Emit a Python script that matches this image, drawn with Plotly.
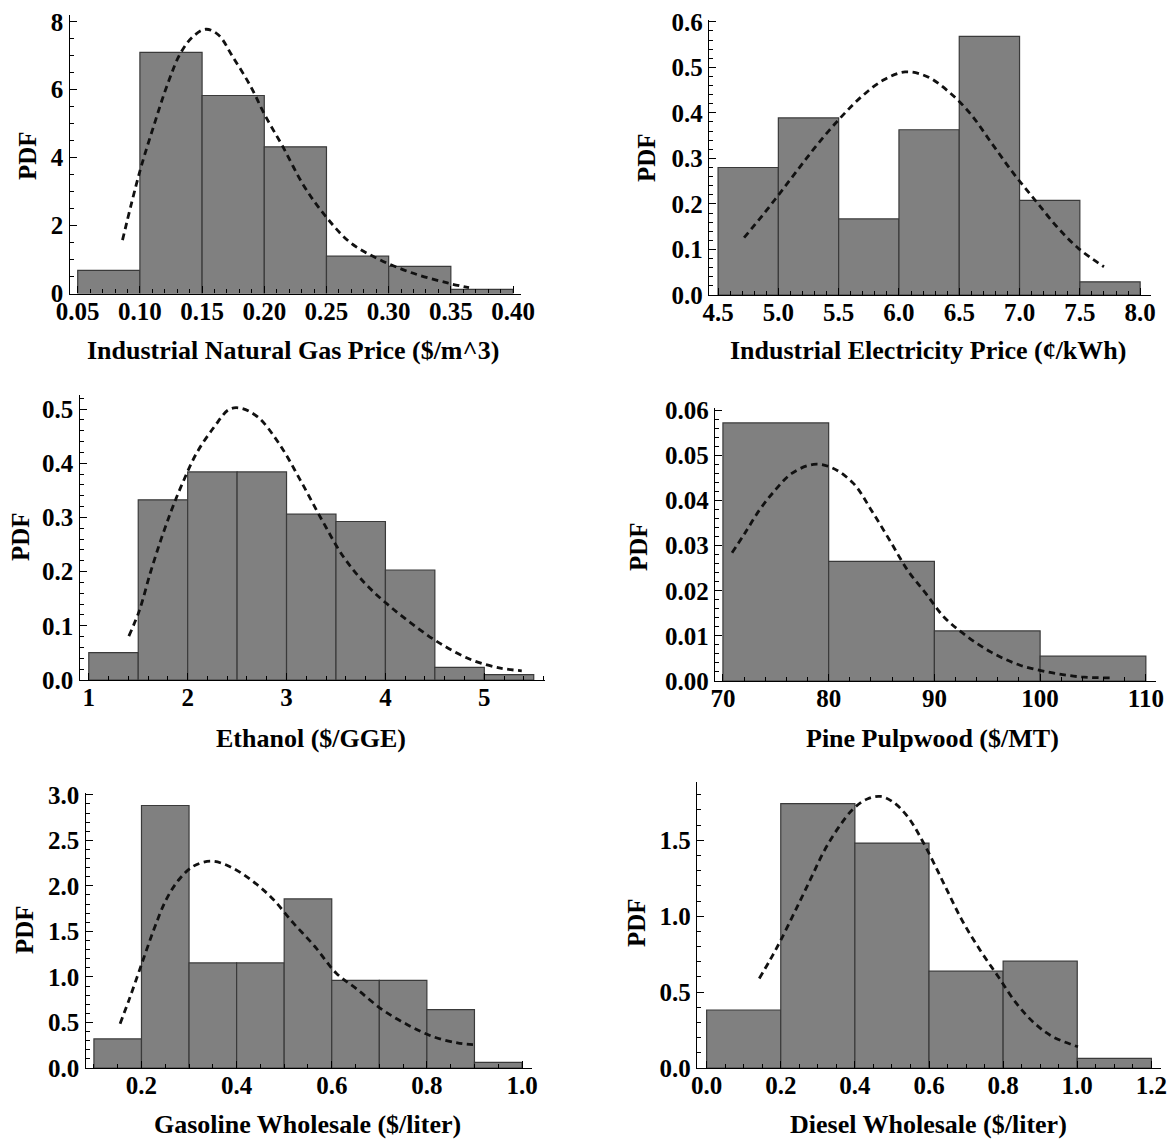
import plotly.graph_objects as go

# ---- Histogram data (bin edges, PDF heights) and fitted-PDF curves ----
gas_edges = [0.05, 0.10, 0.15, 0.20, 0.25, 0.30, 0.35, 0.40]
gas_pdf = [0.68, 7.10, 5.83, 4.32, 1.10, 0.80, 0.12]
gas_fit_x = [0.086, 0.0996, 0.111, 0.1226, 0.1327, 0.1428, 0.153, 0.163, 0.1745, 0.189,
             0.2004, 0.2148, 0.232, 0.2494, 0.2695, 0.2926, 0.3185, 0.3473, 0.3646]
gas_fit_y = [1.57, 3.55, 4.92, 6.20, 7.08, 7.57, 7.78, 7.62, 6.98, 6.10,
             5.26, 4.33, 3.16, 2.27, 1.49, 1.00, 0.61, 0.31, 0.17]

elec_edges = [4.5, 5.0, 5.5, 6.0, 6.5, 7.0, 7.5, 8.0]
elec_pdf = [0.280, 0.389, 0.167, 0.363, 0.568, 0.208, 0.029]
elec_fit_x = [4.716, 4.881, 5.031, 5.181, 5.331, 5.511, 5.691, 5.871, 6.051, 6.231,
              6.41, 6.59, 6.77, 6.95, 7.13, 7.31, 7.49, 7.70]
elec_fit_y = [0.126, 0.179, 0.230, 0.282, 0.333, 0.388, 0.436, 0.472, 0.490, 0.480,
              0.447, 0.399, 0.333, 0.267, 0.208, 0.150, 0.102, 0.062]

eth_edges = [1.0, 1.5, 2.0, 2.5, 3.0, 3.5, 4.0, 4.5, 5.0, 5.5]
eth_pdf = [0.0505, 0.3325, 0.384, 0.384, 0.306, 0.2925, 0.203, 0.0234, 0.0099]
eth_fit_x = [1.405, 1.513, 1.621, 1.730, 1.838, 1.947, 2.091, 2.272, 2.416, 2.525, 2.705,
             2.922, 3.139, 3.356, 3.573, 3.79, 4.006, 4.259, 4.548, 4.873, 5.163, 5.379]
eth_fit_y = [0.081, 0.129, 0.197, 0.259, 0.314, 0.363, 0.419, 0.468, 0.499, 0.502, 0.486,
             0.437, 0.369, 0.296, 0.228, 0.179, 0.142, 0.105, 0.068, 0.037, 0.022, 0.017]

pine_edges = [70, 80, 90, 100, 110]
pine_pdf = [0.0572, 0.0265, 0.0111, 0.0055]
pine_fit_x = [70.86, 72.06, 73.43, 74.8, 76.51, 78.57, 80.28, 82.34, 84.05, 85.77,
              87.48, 89.19, 90.9, 92.96, 95.36, 98.1, 101.2, 103.9, 106.7]
pine_fit_y = [0.0284, 0.0327, 0.0378, 0.0419, 0.0460, 0.0480, 0.0473, 0.0438, 0.0378, 0.0312,
              0.0245, 0.0194, 0.0142, 0.0101, 0.0064, 0.0035, 0.0018, 0.0009, 0.0007]

gasoline_edges = [0.1, 0.2, 0.3, 0.4, 0.5, 0.6, 0.7, 0.8, 0.9, 1.0]
gasoline_pdf = [0.319, 2.883, 1.154, 1.154, 1.857, 0.963, 0.963, 0.641, 0.062]
gasoline_fit_x = [0.155, 0.174, 0.2, 0.226, 0.252, 0.279, 0.309, 0.346, 0.384, 0.429,
                  0.474, 0.519, 0.564, 0.609, 0.654, 0.706, 0.759, 0.811, 0.864, 0.897]
gasoline_fit_y = [0.487, 0.751, 1.136, 1.52, 1.85, 2.07, 2.216, 2.271, 2.216, 2.07,
                  1.868, 1.593, 1.337, 1.044, 0.861, 0.641, 0.476, 0.348, 0.275, 0.256]

diesel_edges = [0.0, 0.2, 0.4, 0.6, 0.8, 1.0, 1.2]
diesel_pdf = [0.382, 1.741, 1.482, 0.638, 0.704, 0.064]
diesel_fit_x = [0.142, 0.171, 0.2, 0.24, 0.279, 0.318, 0.357, 0.396, 0.435, 0.469, 0.503,
                0.543, 0.591, 0.64, 0.689, 0.738, 0.787, 0.836, 0.885, 0.934, 1.002]
diesel_fit_y = [0.59, 0.711, 0.842, 1.04, 1.237, 1.434, 1.588, 1.708, 1.774, 1.789, 1.752,
                1.654, 1.456, 1.215, 0.974, 0.776, 0.601, 0.425, 0.294, 0.206, 0.140]

x_titles = ["Industrial Natural Gas Price ($/m^3)", "Industrial Electricity Price (¢/kWh)",
            "Ethanol ($/GGE)", "Pine Pulpwood ($/MT)",
            "Gasoline Wholesale ($/liter)", "Diesel Wholesale ($/liter)"]

W, H = 1168, 1139
FONT = "Liberation Serif"
TICK_FS = 25
TITLE_FS = 26

# box = (left, right, top, bottom) of each plot area in pixels
panels = [
    dict(edges=gas_edges, pdf=gas_pdf, fx=gas_fit_x, fy=gas_fit_y,
         box=(69.5, 521, 15, 293.5), xr=(0.0434, 0.4064), yr=(0, 8.2),
         xt=(0.05, 0.05, 0.01, ".2f"), yt=(0, 2, 0.5, "d"),
         ylab=(28, 156), xlab=(293, 350)),
    dict(edges=elec_edges, pdf=elec_pdf, fx=elec_fit_x, fy=elec_fit_y,
         box=(709, 1151, 20, 295), xr=(4.425, 8.09), yr=(0, 0.604),
         xt=(4.5, 0.5, 0.1, ".1f"), yt=(0, 0.1, 0.02, ".1f"),
         ylab=(647, 158), xlab=(928, 350)),
    dict(edges=eth_edges, pdf=eth_pdf, fx=eth_fit_x, fy=eth_fit_y,
         box=(79.5, 545, 395, 680), xr=(0.906, 5.614), yr=(0, 0.526),
         xt=(1, 1, 0.2, "d"), yt=(0, 0.1, 0.02, ".1f"),
         ylab=(20, 537), xlab=(311, 738)),
    dict(edges=pine_edges, pdf=pine_pdf, fx=pine_fit_x, fy=pine_fit_y,
         box=(715, 1156, 408, 681), xr=(69.25, 110.96), yr=(0, 0.0605),
         xt=(70, 10, 2, "d"), yt=(0, 0.01, 0.002, ".2f"),
         ylab=(638, 547), xlab=(933, 738)),
    dict(edges=gasoline_edges, pdf=gasoline_pdf, fx=gasoline_fit_x, fy=gasoline_fit_y,
         box=(85.5, 532, 793, 1068), xr=(0.0823, 1.021), yr=(0, 3.02),
         xt=(0.2, 0.2, 0.05, ".1f"), yt=(0, 0.5, 0.1, ".1f"),
         ylab=(24, 930), xlab=(307, 1124)),
    dict(edges=diesel_edges, pdf=diesel_pdf, fx=diesel_fit_x, fy=diesel_fit_y,
         box=(697, 1161, 782, 1068), xr=(-0.026, 1.226), yr=(0, 1.884),
         xt=(0, 0.2, 0.05, ".1f"), yt=(0, 0.5, 0.1, ".1f"),
         ylab=(636, 923), xlab=(928, 1124)),
]

fig = go.Figure()
layout = {}
annotations = []

for i, p in enumerate(panels):
    n = "" if i == 0 else str(i + 1)
    xa, ya = "x" + n, "y" + n
    edges = p["edges"]
    centers = [(a + b) / 2 for a, b in zip(edges[:-1], edges[1:])]
    widths = [b - a for a, b in zip(edges[:-1], edges[1:])]

    fig.add_trace(go.Bar(
        x=centers, y=p["pdf"], width=widths, xaxis=xa, yaxis=ya,
        marker=dict(color="#808080", line=dict(color="#3a3a3a", width=1.2)),
        showlegend=False, hoverinfo="skip"))
    fig.add_trace(go.Scatter(
        x=p["fx"], y=p["fy"], mode="lines", xaxis=xa, yaxis=ya,
        line=dict(color="#111111", width=2.8, dash="6.5px,4.5px", shape="spline"),
        showlegend=False, hoverinfo="skip"))

    x0, x1, y0, y1 = p["box"]
    tick_font = dict(family=FONT, size=TICK_FS, color="black", weight="bold")
    common = dict(showline=True, linecolor="black", linewidth=1.4, showgrid=False,
                  zeroline=False, ticks="inside", ticklen=7, tickwidth=1.2,
                  tickcolor="black", tickfont=tick_font, fixedrange=True,
                  automargin=False)
    t0, dt, mdt, fmt = p["xt"]
    layout["xaxis" + n] = dict(
        domain=[x0 / W, x1 / W], range=list(p["xr"]), anchor=ya,
        tick0=t0, dtick=dt, tickformat=fmt, ticklabelstandoff=-5,
        minor=dict(ticks="inside", dtick=mdt, tick0=t0, ticklen=4, tickwidth=1, tickcolor="black"),
        **common)
    t0, dt, mdt, fmt = p["yt"]
    layout["yaxis" + n] = dict(
        domain=[1 - y1 / H, 1 - y0 / H], range=list(p["yr"]), anchor=xa,
        tick0=t0, dtick=dt, tickformat=fmt,
        minor=dict(ticks="inside", dtick=mdt, tick0=t0, ticklen=4, tickwidth=1, tickcolor="black"),
        **common)

    lx, ly = p["ylab"]
    annotations.append(dict(text="PDF", x=lx / W, y=1 - ly / H, xref="paper", yref="paper",
                            showarrow=False, textangle=-90, xanchor="center", yanchor="middle",
                            font=dict(family=FONT, size=TICK_FS, color="black", weight="bold")))
    tx, ty = p["xlab"]
    annotations.append(dict(text=x_titles[i], x=tx / W, y=1 - ty / H, xref="paper", yref="paper",
                            showarrow=False, xanchor="center", yanchor="middle",
                            font=dict(family=FONT, size=TITLE_FS, color="black", weight="bold")))

fig.update_layout(
    width=W, height=H, margin=dict(l=0, r=0, t=0, b=0, autoexpand=False),
    paper_bgcolor="white", plot_bgcolor="white",
    barmode="overlay", annotations=annotations, **layout)

fig.write_html("out.html", config={"displayModeBar": False})
